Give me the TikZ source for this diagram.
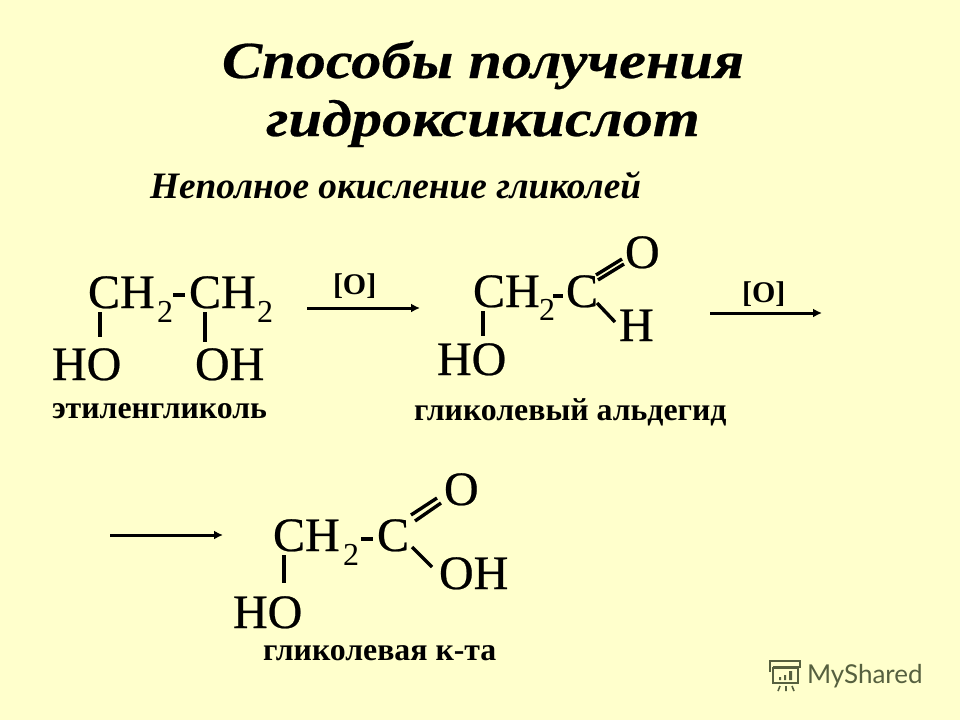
\documentclass[tikz,border=0pt]{standalone}
\usepackage{fontspec}
\setmainfont{Liberation Serif}
\newfontfamily\titlefont[FakeStretch=1.16,FakeBold=0.5]{Liberation Serif}
\newfontfamily\atomfont[FakeBold=0.5]{Liberation Serif}
\newfontfamily\logofont{Lato}
\usetikzlibrary{arrows.meta}
\definecolor{bgc}{HTML}{FFFFCC}
\definecolor{logoc}{HTML}{56603F}
\tikzset{
  x=1pt,y=-1pt,
  txt/.style={anchor=base west,inner sep=0pt,outer sep=0pt,text=black},
  atom/.style={txt,font=\atomfont\fontsize{48}{48}\selectfont},
  subs/.style={txt,font=\fontsize{32}{32}\selectfont},
  nm/.style={txt,font=\bfseries\fontsize{31.8}{32}\selectfont},
  reag/.style={txt,font=\bfseries\fontsize{30}{30}\selectfont},
  ttl/.style={anchor=base,inner sep=0pt,font=\titlefont\bfseries\itshape\fontsize{52}{52}\selectfont},
  bond/.style={line width=3.4pt},
  dashbond/.style={line width=4.2pt},
  rarrow/.style={line width=3pt,-{Latex[length=9pt,width=9pt]}},
  lg/.style={draw=logoc,line width=1.6pt}
}
\begin{document}
\begin{tikzpicture}
\useasboundingbox (0,0) rectangle (960,720);
\fill[bgc] (0,0) rectangle (960,720);
% titles
\node[ttl] (t1) at (483,78) {Способы получения};
\node[ttl] (t2) at (483,136) {гидроксикислот};
\node[txt,font=\bfseries\itshape\fontsize{37.3}{37}\selectfont] (t3) at (150,198) {Неполное окисление гликолей};
% molecule 1
\node[atom] (a1) at (88,308) {CH};
\node[subs] (a1s) at (157,322) {2};
\node[atom] (a2) at (189,308) {CH};
\node[subs] (a2s) at (257,322) {2};
\node[atom] (a3) at (52,380) {HO};
\node[atom] (a4) at (195,380) {OH};
\node[nm] (a5) at (52,418) {этиленгликоль};
\coordinate (a1b) at (100,312); \coordinate (a3b) at (100,337);
\coordinate (a2b) at (205,312); \coordinate (a4b) at (205,342);
\coordinate (a1d) at (173,295); \coordinate (a2d) at (185,295);
\draw[bond] (a1b) -- (a3b);
\draw[bond] (a2b) -- (a4b);
\draw[dashbond] (a1d) -- (a2d);
% arrow 1
\coordinate (r1a) at (307,308); \coordinate (r1b) at (420,308);
\draw[rarrow] (r1a) -- (r1b);
\node[reag] (r1) at (333,294) {[O]};
% molecule 2
\node[atom] (b1) at (473,307) {CH};
\node[subs] (b1s) at (539,320) {2};
\node[atom] (b2) at (566,307) {C};
\node[atom] (b3) at (625,268) {O};
\node[atom] (b4) at (619,341) {H};
\node[atom] (b5) at (437,375) {HO};
\node[nm] (b6) at (414,420) {гликолевый альдегид};
\coordinate (b1b) at (483,311); \coordinate (b5b) at (483,336);
\coordinate (b1d) at (553,296); \coordinate (b2d) at (563,296);
\coordinate (b2u1) at (596,275); \coordinate (b3u1) at (622,259);
\coordinate (b2u2) at (598,280); \coordinate (b3u2) at (624,264);
\coordinate (b2l) at (597,303); \coordinate (b4l) at (615,322);
\draw[bond] (b1b) -- (b5b);
\draw[dashbond] (b1d) -- (b2d);
\draw[bond] (b2u1) -- (b3u1);
\draw[bond] (b2u2) -- (b3u2);
\draw[bond] (b2l) -- (b4l);
% arrow 2
\coordinate (r2a) at (710,313); \coordinate (r2b) at (822,313);
\draw[rarrow] (r2a) -- (r2b);
\node[reag] (r2) at (742,302) {[O]};
% molecule 3
\coordinate (r3a) at (110,535); \coordinate (r3b) at (223,535);
\draw[rarrow] (r3a) -- (r3b);
\node[atom] (c1) at (273,551) {CH};
\node[subs] (c1s) at (343,565) {2};
\node[atom] (c2) at (377,551) {C};
\node[atom] (c3) at (444,505) {O};
\node[atom] (c4) at (439,589) {OH};
\node[atom] (c5) at (233,628) {HO};
\node[nm] (c6) at (263,660) {гликолевая к-та};
\coordinate (c1b) at (284,555); \coordinate (c5b) at (284,583);
\coordinate (c1d) at (361,539); \coordinate (c2d) at (373,539);
\coordinate (c2u1) at (411,515); \coordinate (c3u1) at (437,498);
\coordinate (c2u2) at (415,521); \coordinate (c3u2) at (441,503);
\coordinate (c2l) at (412,547); \coordinate (c4l) at (432,567);
\draw[bond] (c1b) -- (c5b);
\draw[dashbond] (c1d) -- (c2d);
\draw[bond] (c2u1) -- (c3u1);
\draw[bond] (c2u2) -- (c3u2);
\draw[bond] (c2l) -- (c4l);
% logo
\node[txt,text=logoc,font=\logofont\fontsize{26}{26}\selectfont] (lg) at (807,683) {MyShared};
\draw[lg] (773,668) rectangle (798,683);
\draw[lg] (770,672) -- (770,661) -- (800,661) -- (800,667) -- (773,667);
\draw[lg] (780,686) -- (778,691) (786,686) -- (786,691) (792,686) -- (794,691);
\fill[logoc] (779,677) rectangle (781,680) (784,675) rectangle (786,680) (789,671) rectangle (792,680);
\end{tikzpicture}
\end{document}
